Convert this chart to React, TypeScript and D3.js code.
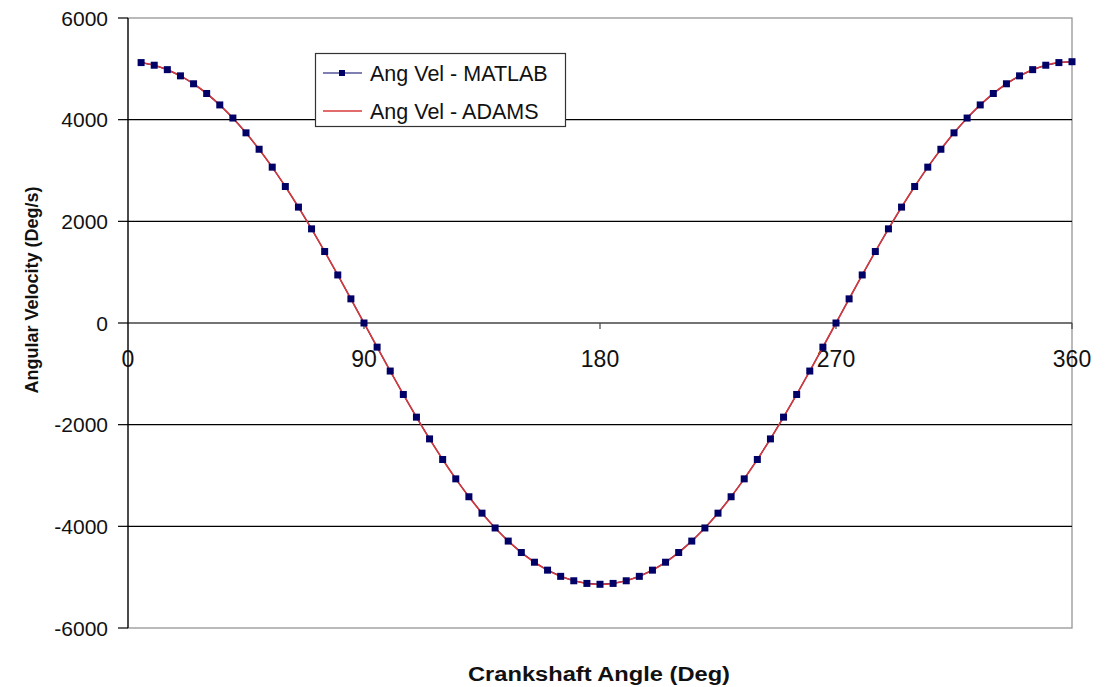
import * as d3 from 'd3';
import React, { useEffect, useRef } from 'react';

// crank angle (deg), sampled every 5 deg
const angles = [
  5, 10, 15, 20, 25, 30, 35, 40, 45, 50, 55, 60, 65, 70, 75, 80, 85, 90,
  95, 100, 105, 110, 115, 120, 125, 130, 135, 140, 145, 150, 155, 160, 165, 170, 175, 180,
  185, 190, 195, 200, 205, 210, 215, 220, 225, 230, 235, 240, 245, 250, 255, 260, 265, 270,
  275, 280, 285, 290, 295, 300, 305, 310, 315, 320, 325, 330, 335, 340, 345, 350, 355, 360
];

// angular velocity (deg/s)
const matlabVel = [
  5123, 5071, 4984, 4862, 4706, 4515, 4290, 4032, 3741, 3418, 3066, 2685, 2280, 1852, 1406, 945, 475, 0,
  -475, -945, -1406, -1852, -2280, -2685, -3066, -3418, -3741, -4032, -4290, -4515, -4706, -4862, -4984, -5071, -5123, -5140,
  -5123, -5071, -4984, -4862, -4706, -4515, -4290, -4032, -3741, -3418, -3066, -2685, -2280, -1852, -1406, -945, -475, 0,
  475, 945, 1406, 1852, 2280, 2685, 3066, 3418, 3741, 4032, 4290, 4515, 4706, 4862, 4984, 5071, 5123, 5140
];

const adamsVel = [
  5123, 5071, 4984, 4862, 4706, 4515, 4290, 4032, 3741, 3418, 3066, 2685, 2280, 1852, 1406, 945, 475, 0,
  -475, -945, -1406, -1852, -2280, -2685, -3066, -3418, -3741, -4032, -4290, -4515, -4706, -4862, -4984, -5071, -5123, -5140,
  -5123, -5071, -4984, -4862, -4706, -4515, -4290, -4032, -3741, -3418, -3066, -2685, -2280, -1852, -1406, -945, -475, 0,
  475, 945, 1406, 1852, 2280, 2685, 3066, 3418, 3741, 4032, 4290, 4515, 4706, 4862, 4984, 5071, 5123, 5140
];

const xTicks = [0, 90, 180, 270, 360];
const yTicks = [-6000, -4000, -2000, 0, 2000, 4000, 6000];
const seriesNames = ['Ang Vel - MATLAB', 'Ang Vel - ADAMS'];

const W = 1106, H = 687;
const FONT = '"Liberation Sans", Arial, sans-serif';
const NAVY = '#000066';
const RED = '#d83a3a';

export default function App() {
  const ref = useRef<SVGSVGElement>(null);

  useEffect(() => {
    const svg = d3.select(ref.current);
    svg.selectAll('*').remove();

    const x = d3.scaleLinear().domain([0, 360]).range([128, 1072]);
    const y = d3.scaleLinear().domain([-6000, 6000]).range([628, 18]);

    const matlab = angles.map((a, i) => ({ a, v: matlabVel[i] }));
    const adams = angles.map((a, i) => ({ a, v: adamsVel[i] }));

    // frame (top / right / bottom in grey)
    svg.append('rect')
      .attr('x', x(0)).attr('y', y(6000))
      .attr('width', x(360) - x(0)).attr('height', y(-6000) - y(6000))
      .attr('fill', 'none').attr('stroke', '#8c8c8c').attr('stroke-width', 1.2);

    // gridlines
    svg.append('g')
      .selectAll('line')
      .data(yTicks.filter(t => t !== 6000 && t !== -6000 && t !== 0))
      .join('line')
      .attr('x1', x(0)).attr('x2', x(360))
      .attr('y1', d => y(d)).attr('y2', d => y(d))
      .attr('stroke', '#000').attr('stroke-width', 1.2);

    // zero axis with ticks
    svg.append('line')
      .attr('x1', x(0)).attr('x2', x(360))
      .attr('y1', y(0)).attr('y2', y(0))
      .attr('stroke', '#444').attr('stroke-width', 1.5);
    svg.append('g')
      .selectAll('line')
      .data(xTicks.slice(1))
      .join('line')
      .attr('x1', d => x(d)).attr('x2', d => x(d))
      .attr('y1', y(0)).attr('y2', y(0) + 6)
      .attr('stroke', '#444').attr('stroke-width', 1.2);

    // left axis
    svg.append('line')
      .attr('x1', x(0)).attr('x2', x(0))
      .attr('y1', y(6000)).attr('y2', y(-6000))
      .attr('stroke', '#000').attr('stroke-width', 1.2);
    svg.append('g')
      .selectAll('line')
      .data(yTicks)
      .join('line')
      .attr('x1', x(0) - 10).attr('x2', x(0))
      .attr('y1', d => y(d)).attr('y2', d => y(d))
      .attr('stroke', '#000').attr('stroke-width', 1.2);

    svg.append('g')
      .selectAll('text')
      .data(yTicks)
      .join('text')
      .attr('x', 108)
      .attr('y', d => y(d))
      .attr('dy', '0.36em')
      .attr('text-anchor', 'end')
      .style('font-family', FONT)
      .style('font-size', '21px')
      .attr('fill', '#111')
      .text(d => d);

    svg.append('g')
      .selectAll('text')
      .data(xTicks)
      .join('text')
      .attr('x', d => x(d))
      .attr('y', y(0) + 44)
      .attr('text-anchor', 'middle')
      .style('font-family', FONT)
      .style('font-size', '23px')
      .attr('fill', '#111')
      .text(d => d);

    // series
    const lineGen = d3.line<{ a: number; v: number }>()
      .x(d => x(d.a)).y(d => y(d.v));

    svg.append('path')
      .datum(matlab)
      .attr('d', lineGen)
      .attr('fill', 'none').attr('stroke', NAVY).attr('stroke-width', 1.2);

    svg.append('path')
      .datum(adams)
      .attr('d', lineGen.curve(d3.curveCatmullRom))
      .attr('fill', 'none').attr('stroke', RED).attr('stroke-width', 1.6);

    svg.append('g')
      .selectAll('rect')
      .data(matlab)
      .join('rect')
      .attr('x', d => x(d.a) - 3.5)
      .attr('y', d => y(d.v) - 3.5)
      .attr('width', 7).attr('height', 7)
      .attr('fill', NAVY);

    // legend
    const lg = svg.append('g');
    lg.append('rect')
      .attr('x', 315.5).attr('y', 53.5).attr('width', 250).attr('height', 73)
      .attr('fill', '#fff').attr('stroke', '#333').attr('stroke-width', 1.2);
    const rows = [73, 111];
    lg.append('line')
      .attr('x1', 323).attr('x2', 362).attr('y1', rows[0]).attr('y2', rows[0])
      .attr('stroke', NAVY).attr('stroke-width', 1.2);
    lg.append('rect')
      .attr('x', 339).attr('y', rows[0] - 3).attr('width', 6).attr('height', 6)
      .attr('fill', NAVY);
    lg.append('line')
      .attr('x1', 323).attr('x2', 362).attr('y1', rows[1]).attr('y2', rows[1])
      .attr('stroke', RED).attr('stroke-width', 1.4);
    lg.selectAll('text.lab')
      .data(seriesNames)
      .join('text')
      .attr('class', 'lab')
      .attr('x', 370)
      .attr('y', (d, i) => rows[i])
      .attr('dy', '0.36em')
      .style('font-family', FONT)
      .style('font-size', '21.5px')
      .attr('fill', '#111')
      .text(d => d);

    // axis titles
    svg.append('text')
      .attr('x', 599).attr('y', 681)
      .attr('text-anchor', 'middle')
      .attr('textLength', 262)
      .attr('lengthAdjust', 'spacingAndGlyphs')
      .style('font-family', FONT)
      .style('font-size', '20px')
      .style('font-weight', 'bold')
      .attr('fill', '#111')
      .text('Crankshaft Angle (Deg)');

    svg.append('text')
      .attr('transform', 'translate(38,290) rotate(-90)')
      .attr('text-anchor', 'middle')
      .style('font-family', FONT)
      .style('font-size', '18px')
      .style('font-weight', 'bold')
      .attr('fill', '#111')
      .text('Angular Velocity (Deg/s)');
  }, []);

  return (
    <svg
      ref={ref}
      width={W}
      height={H}
      style={{ position: 'absolute', left: 0, top: 0, background: '#fff' }}
    />
  );
}
